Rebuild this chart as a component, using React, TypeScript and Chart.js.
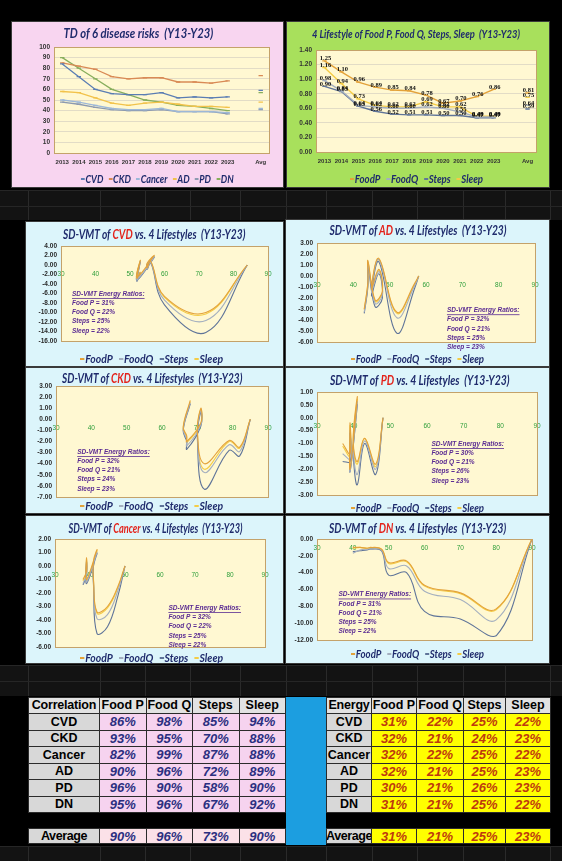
import React, { useEffect, useLayoutEffect, useRef } from 'react';
import { Chart, registerables } from 'chart.js';

// ---------------- DATA ----------------
const YEAR_LABELS = ['2013', '2014', '2015', '2016', '2017', '2018', '2019', '2020', '2021', '2022', '2023', '', 'Avg'];
const DISEASES = ['CVD', 'CKD', 'Cancer', 'AD', 'PD', 'DN'];
const CVD_TD = [84, 72, 60, 56, 55, 55, 57, 52, 53, 52, 53];
const CKD_TD = [85, 82, 79, 72, 70, 71, 71, 67, 67, 66, 68];
const CANCER_TD = [50, 48, 45, 42, 41, 41, 42, 39, 39, 39, 38];
const AD_TD = [58, 57, 52, 47, 45, 47, 48, 46, 44, 44, 43];
const PD_TD = [48, 46, 43, 41, 40, 40, 41, 39, 39, 39, 37];
const DN_TD = [90, 80, 70, 60, 55, 50, 48, 45, 44, 42, 40];
const TD_AVG = [59, 73, 42, 48, 41, 57];

const LIFESTYLES = ['FoodP', 'FoodQ', 'Steps', 'Sleep'];
const LS_FOODP = [1.25, 1.10, 0.96, 0.89, 0.85, 0.84, 0.78, 0.67, 0.70, 0.76, 0.86];
const LS_FOODQ = [0.98, 0.84, 0.64, 0.62, 0.60, 0.60, 0.62, 0.60, 0.55, 0.48, 0.48];
const LS_STEPS = [0.90, 0.83, 0.63, 0.56, 0.52, 0.51, 0.51, 0.50, 0.50, 0.47, 0.47];
const LS_SLEEP = [1.16, 0.94, 0.73, 0.64, 0.62, 0.62, 0.69, 0.62, 0.62, 0.49, 0.49];
const LS_AVG = [0.81, 0.64, 0.59, 0.75];

// SD-VMT y values (FoodP, FoodQ, Steps, Sleep) at each year, x = disease TD
const CVD_FOODP = [0, -10.0, -6.6, 0.8, -0.6, 0.4, 2.0, -2.6, 1.0, -2.8, -1.4];
const CVD_FOODQ = [0, -11.7, -7.4, 0.6, -0.8, 0.2, 1.7, -3.0, 0.8, -3.2, -1.6];
const CVD_STEPS = [0, -14.2, -8.4, 0.5, -0.9, 0.1, 1.6, -3.2, 0.7, -3.4, -1.7];
const CVD_SLEEP = [0, -10.3, -6.8, 0.7, -0.7, 0.3, 1.8, -2.8, 0.9, -3.0, -1.5];

const AD_FOODP = [0, -0.6, -3.3, 1.6, -1.2, 0.6, -1.4, -2.2, 1.4, -0.6, -3.0];
const AD_FOODQ = [0, -0.8, -3.8, 1.5, -1.5, 0.4, -1.7, -2.5, 1.2, -0.8, -3.3];
const AD_STEPS = [0, -1.0, -5.2, 1.3, -1.8, 0.2, -2.0, -2.8, 1.0, -1.0, -3.4];
const AD_SLEEP = [0, -0.7, -3.4, 1.5, -1.3, 0.5, -1.5, -2.3, 1.3, -0.7, -3.1];

const CKD_FOODP = [0, -2.5, -1.9, -4.0, -1.0, 1.0, -0.3, -2.0, -1.5, -0.7, 1.7];
const CKD_FOODQ = [0, -2.9, -2.3, -4.8, -1.3, 0.8, -0.5, -2.4, -1.8, -0.9, 1.5];
const CKD_STEPS = [0, -3.3, -2.8, -6.3, -1.6, 0.7, -0.6, -2.7, -2.0, -1.0, 1.4];
const CKD_SLEEP = [0, -2.6, -2.0, -4.5, -1.1, 0.9, -0.4, -2.1, -1.6, -0.8, 1.6];

const PD_FOODP = [0, -1.8, -0.8, -1.7, -1.2, -0.4, 0.8, -2.0, -0.2, -1.4, -1.0];
const PD_FOODQ = [0, -2.0, -0.9, -2.2, -1.5, -0.6, 0.6, -2.1, -0.5, -1.6, -1.4];
const PD_STEPS = [0, -2.2, -1.0, -2.6, -1.7, -0.7, 0.5, -2.1, -0.6, -1.7, -1.7];
const PD_SLEEP = [0, -1.9, -0.8, -1.8, -1.3, -0.5, 0.7, -2.0, -0.3, -1.5, -1.1];

const CANCER_FOODP = [0, -1.5, -3.0, -3.4, -1.0, 0.4, 1.2, -1.0, 0.6, -0.4, -1.0];
const CANCER_FOODQ = [0, -1.8, -3.6, -3.9, -1.2, 0.2, 1.0, -1.2, 0.4, -0.6, -1.3];
const CANCER_STEPS = [0, -2.2, -4.5, -5.0, -1.4, 0.0, 0.9, -1.3, 0.3, -0.7, -1.4];
const CANCER_SLEEP = [0, -1.6, -3.1, -3.5, -1.1, 0.3, 1.1, -1.1, 0.5, -0.5, -1.1];

const DN_FOODP = [0, -8.3, -6.4, -5.5, -2.6, -2.8, -1.2, -1.0, -1.1, -1.0, -1.0];
const DN_FOODQ = [0, -9.6, -7.2, -6.2, -3.2, -3.5, -1.3, -1.2, -1.2, -1.3, -1.7];
const DN_STEPS = [0, -11.5, -9.5, -8.6, -4.0, -4.3, -1.4, -1.2, -1.3, -1.4, -1.5];
const DN_SLEEP = [0, -8.4, -6.5, -5.6, -2.7, -2.9, -1.2, -1.1, -1.1, -1.0, -1.1];

// tables (CVD, CKD, Cancer, AD, PD, DN)
const CORR_FOODP = [86, 93, 82, 90, 96, 95];
const CORR_FOODQ = [98, 95, 99, 96, 90, 96];
const CORR_STEPS = [85, 70, 87, 72, 58, 67];
const CORR_SLEEP = [94, 88, 88, 89, 90, 92];
const CORR_AVG = [90, 96, 73, 90];
const ENERGY_FOODP = [31, 32, 32, 32, 30, 31];
const ENERGY_FOODQ = [22, 21, 22, 21, 21, 21];
const ENERGY_STEPS = [25, 24, 25, 25, 26, 25];
const ENERGY_SLEEP = [22, 23, 22, 23, 23, 22];
const ENERGY_AVG = [31, 21, 25, 23];
const CORR_HEADERS = ['Correlation', 'Food P', 'Food Q', 'Steps', 'Sleep'];
const ENERGY_HEADERS = ['Energy', 'Food P', 'Food Q', 'Steps', 'Sleep'];

// ---------------- STYLE ----------------
const TD_COLORS = ['#5A7DB3', '#D98A55', '#9DB8D8', '#F2C24A', '#8C9AB0', '#87AE5C'];
const LS_COLORS = ['#E3A23A', '#A4AFBF', '#5F7499', '#F4CC46'];
const NAVY = '#1F2B6C';
const UI_FONT = '"Liberation Sans", Arial, sans-serif';
const TITLE_FONT = 'Lato, "Open Sans", sans-serif';
const PLOT_FILL = '#FFF8D2';
const PLOT_BORDER = '#C4A26A';

const plotBg = {
  id: 'plotBg',
  beforeDraw(chart: any) {
    const a = chart.chartArea;
    const ctx = chart.ctx;
    ctx.save();
    ctx.fillStyle = PLOT_FILL;
    ctx.fillRect(a.left, a.top, a.right - a.left, a.bottom - a.top);
    ctx.restore();
  },
  beforeDatasetsDraw(chart: any) {
    const a = chart.chartArea;
    const ctx = chart.ctx;
    ctx.save();
    ctx.strokeStyle = PLOT_BORDER;
    ctx.lineWidth = 1;
    ctx.strokeRect(Math.round(a.left) + 0.5, Math.round(a.top) + 0.5, Math.round(a.right - a.left), Math.round(a.bottom - a.top));
    ctx.restore();
  },
};

const energyText = {
  id: 'energyText',
  afterDatasetsDraw(chart: any, _args: any, opts: any) {
    if (!opts || !opts.lines) return;
    const a = chart.chartArea;
    const ctx = chart.ctx;
    const x = a.left + opts.fx * (a.right - a.left);
    const y0 = a.top + opts.fy * (a.bottom - a.top);
    ctx.save();
    ctx.font = 'italic bold 6.5px ' + UI_FONT;
    ctx.fillStyle = '#5B2C93';
    ctx.textBaseline = 'middle';
    opts.lines.forEach((t: string, i: number) => {
      const y = y0 + i * 9.2;
      ctx.fillText(t, x, y);
      if (i === 0) {
        const w = ctx.measureText(t).width;
        ctx.fillRect(x, y + 4, w, 0.8);
      }
    });
    ctx.restore();
  },
};

const valueLabels = {
  id: 'valueLabels',
  afterDatasetsDraw(chart: any, _args: any, opts: any) {
    if (!opts || !opts.show) return;
    const ctx = chart.ctx;
    ctx.save();
    ctx.font = 'bold 6.5px "Liberation Serif", serif';
    ctx.fillStyle = '#111';
    ctx.textAlign = 'center';
    ctx.textBaseline = 'bottom';
    chart.data.datasets.forEach((ds: any, di: number) => {
      const meta = chart.getDatasetMeta(di);
      meta.data.forEach((pt: any, i: number) => {
        const v = ds.data[i];
        if (v === null || v === undefined) return;
        ctx.fillText(Number(v).toFixed(2), pt.x + 1, pt.y + 1);
      });
    });
    ctx.restore();
  },
};

Chart.register(...registerables, plotBg, energyText, valueLabels);

// ---------------- COMPONENTS ----------------
function ChartCanvas({ w, h, make }: any) {
  const ref = useRef<HTMLCanvasElement>(null);
  useEffect(() => {
    const chart = new Chart(ref.current as HTMLCanvasElement, make());
    return () => chart.destroy();
  }, []);
  return <canvas ref={ref} width={w} height={h} style={{ position: 'absolute', left: 0, top: 0, width: w, height: h }} />;
}

function FitText({ cx, cy, width, size, children, color = NAVY }: any) {
  const ref = useRef<HTMLSpanElement>(null);
  useLayoutEffect(() => {
    const el = ref.current;
    if (!el) return;
    el.style.transform = 'none';
    const w = el.offsetWidth;
    if (w > 0) el.style.transform = `scaleX(${width / w})`;
  }, []);
  return (
    <div style={{ position: 'absolute', left: cx - 300, width: 600, top: cy - size * 0.62, textAlign: 'center', lineHeight: `${size * 1.24}px`, pointerEvents: 'none' }}>
      <span ref={ref} style={{ display: 'inline-block', whiteSpace: 'nowrap', transformOrigin: 'center', fontFamily: TITLE_FONT, fontStyle: 'italic', fontWeight: 700, fontSize: size, color }}>
        {children}
      </span>
    </div>
  );
}

function Legend({ cx, cy, width, names, colors, size = 12 }: any) {
  return (
    <FitText cx={cx} cy={cy} width={width} size={size}>
      {names.map((n: string, i: number) => (
        <span key={n} style={{ marginLeft: i === 0 ? 0 : 7 }}>
          <span style={{ display: 'inline-block', width: 5, height: 2, background: colors[i], verticalAlign: 'middle', marginRight: 1 }} />
          {n}
        </span>
      ))}
    </FitText>
  );
}

function Panel({ x, y, w, h, bg, children }: any) {
  return (
    <div style={{ position: 'absolute', left: x, top: y, width: w, height: h, background: bg, outline: '1px solid #3a3a3a' }}>
      {children}
    </div>
  );
}

function tdConfig() {
  const sets = [CVD_TD, CKD_TD, CANCER_TD, AD_TD, PD_TD, DN_TD];
  return {
    type: 'line',
    data: {
      labels: YEAR_LABELS,
      datasets: DISEASES.map((d, i) => ({
        label: d,
        data: [...sets[i], null, TD_AVG[i]],
        borderColor: TD_COLORS[i],
        backgroundColor: TD_COLORS[i],
        borderWidth: 1.3,
        pointStyle: 'line',
        pointRadius: 2.2,
        pointBorderWidth: 1.3,
        spanGaps: false,
        tension: 0,
      })),
    },
    options: {
      responsive: false,
      animation: false,
      events: [],
      layout: { padding: { left: 12, top: 25, right: 14, bottom: 16 } },
      plugins: { legend: { display: false }, tooltip: { enabled: false } },
      scales: {
        x: {
          offset: true,
          grid: { display: false, drawTicks: false },
          border: { display: false },
          ticks: { font: { size: 6, weight: 'bold', family: UI_FONT }, color: '#333', padding: 6, autoSkip: false, maxRotation: 0 },
          afterFit: (s: any) => { s.height = 18; },
        },
        y: {
          min: 0, max: 100,
          ticks: { stepSize: 10, autoSkip: false, font: { size: 6.5, weight: 'bold', family: UI_FONT }, color: '#333', padding: 4 },
          grid: { color: '#E2DCC6', drawTicks: false },
          border: { display: false },
          afterFit: (s: any) => { s.width = 30; },
        },
      },
    },
  };
}

function lsConfig() {
  const sets = [LS_FOODP, LS_FOODQ, LS_STEPS, LS_SLEEP];
  return {
    type: 'line',
    data: {
      labels: YEAR_LABELS,
      datasets: LIFESTYLES.map((n, i) => ({
        label: n,
        data: [...sets[i], null, LS_AVG[i]],
        borderColor: LS_COLORS[i],
        backgroundColor: LS_COLORS[i],
        borderWidth: 1.4,
        pointStyle: 'line',
        pointRadius: 2.2,
        pointBorderWidth: 1.3,
        spanGaps: false,
        tension: 0,
      })),
    },
    options: {
      responsive: false,
      animation: false,
      events: [],
      layout: { padding: { left: 7, top: 28, right: 13, bottom: 17 } },
      plugins: { legend: { display: false }, tooltip: { enabled: false }, valueLabels: { show: true } },
      scales: {
        x: {
          offset: true,
          grid: { display: false, drawTicks: false },
          border: { display: false },
          ticks: { font: { size: 6, weight: 'bold', family: UI_FONT }, color: '#333', padding: 6, autoSkip: false, maxRotation: 0 },
          afterFit: (s: any) => { s.height = 18; },
        },
        y: {
          min: 0, max: 1.4,
          ticks: { stepSize: 0.2, autoSkip: false, font: { size: 6.5, weight: 'bold', family: UI_FONT }, color: '#333', padding: 4, callback: (v: any) => Number(v).toFixed(2) },
          grid: { color: '#E2DCC6', drawTicks: false },
          border: { display: false },
          afterFit: (s: any) => { s.width = 22; },
        },
      },
    },
  };
}

function sdConfig(xs: number[], ys: number[][], yMin: number, yMax: number, step: number, pad: any, energy: number[], fx: number, fy: number) {
  return () => ({
    type: 'scatter',
    data: {
      datasets: LIFESTYLES.map((n, k) => ({
        label: n,
        data: xs.map((x, i) => ({ x, y: ys[k][i] })),
        showLine: true,
        borderColor: LS_COLORS[k],
        backgroundColor: LS_COLORS[k],
        borderWidth: 1.1,
        pointRadius: 0,
        tension: 0.4,
      })),
    },
    options: {
      responsive: false,
      animation: false,
      events: [],
      layout: { padding: pad },
      plugins: {
        legend: { display: false },
        tooltip: { enabled: false },
        energyText: {
          fx, fy,
          lines: ['SD-VMT Energy Ratios:', `Food P = ${energy[0]}%`, `Food Q = ${energy[1]}%`, `Steps = ${energy[2]}%`, `Sleep = ${energy[3]}%`],
        },
      },
      scales: {
        x: {
          type: 'linear',
          position: { y: 0 },
          min: 30, max: 90,
          grid: { display: false, drawTicks: false },
          border: { display: false },
          ticks: { stepSize: 10, autoSkip: false, font: { size: 6.5, family: UI_FONT }, color: '#2E9E3A', padding: 5 },
        },
        y: {
          min: yMin, max: yMax,
          ticks: { stepSize: step, autoSkip: false, font: { size: 6.5, weight: 'bold', family: UI_FONT }, color: '#2a2a2a', padding: 4, callback: (v: any) => Number(v).toFixed(2) },
          grid: { display: false, drawTicks: false },
          border: { display: false },
          afterFit: (s: any) => { s.width = 26; },
        },
      },
    },
  });
}

function SdPanel({ x, y, w, h, disease, title, legend, make }: any) {
  return (
    <Panel x={x} y={y} w={w} h={h} bg="#DCF5FB">
      <ChartCanvas w={w} h={h} make={make} />
      <FitText cx={title[0]} cy={title[1]} width={title[2]} size={13}>
        SD-VMT of <span style={{ color: '#E3231B' }}>{disease}</span> vs. 4 Lifestyles&nbsp;&nbsp;(Y13-Y23)
      </FitText>
      <Legend cx={legend[0]} cy={legend[1]} width={legend[2]} names={LIFESTYLES} colors={LS_COLORS} />
    </Panel>
  );
}

function Table({ left, top, colW, headers, labels, cols, avg, valColor, valBg, avgBg }: any) {
  const xs = [0];
  colW.forEach((w: number) => xs.push(xs[xs.length - 1] + w));
  const cells: any[] = [];
  const border = '1px solid #2b2b2b';
  const mk = (key: string, cx: number, cy: number, cw: number, ch: number, text: string, st: any) => (
    <div key={key} style={{
      position: 'absolute', left: cx, top: cy, width: cw + 1, height: ch + 1, boxSizing: 'border-box', border,
      display: 'flex', alignItems: 'center', justifyContent: 'center', overflow: 'hidden', whiteSpace: 'nowrap',
      fontFamily: UI_FONT, fontSize: 12.5, fontWeight: 700, lineHeight: 1, ...st,
    }}>{text}</div>
  );
  headers.forEach((hd: string, c: number) => cells.push(mk('h' + c, xs[c], 0, colW[c], 16, hd, { background: '#E2E2E2', color: '#000', letterSpacing: c === 0 ? -0.2 : 0 })));
  const rowH = 16.5;
  labels.forEach((lab: string, r: number) => {
    const y = 16 + r * rowH;
    cells.push(mk('l' + r, xs[0], y, colW[0], rowH, lab, { background: '#D8D8D8', color: '#000' }));
    cols.forEach((col: number[], c: number) => cells.push(mk(`v${r}_${c}`, xs[c + 1], y, colW[c + 1], rowH, col[r] + '%', { background: valBg, color: valColor, fontStyle: 'italic', fontSize: 13 })));
  });
  const ay = 16 + 6 * rowH + 16;
  cells.push(mk('al', xs[0], ay, colW[0], 15, 'Average', { background: '#D8D8D8', color: '#000', letterSpacing: -0.4 }));
  avg.forEach((v: number, c: number) => cells.push(mk('a' + c, xs[c + 1], ay, colW[c + 1], 15, v + '%', { background: avgBg, color: valColor, fontStyle: 'italic', fontSize: 13 })));
  return <div style={{ position: 'absolute', left, top }}>{cells}</div>;
}

function Band({ y, h }: any) {
  const lines: any[] = [];
  const vx = [28, 100, 145, 190, 240, 286, 326, 372, 417, 463, 505, 550];
  vx.forEach((x, i) => lines.push(<div key={'v' + i} style={{ position: 'absolute', left: x, top: 0, width: 1, height: h, background: '#2a2a2a' }} />));
  for (let yy = 0; yy < h; yy += 16) lines.push(<div key={'h' + yy} style={{ position: 'absolute', left: 0, top: yy, width: 562, height: 1, background: '#262626' }} />);
  return <div style={{ position: 'absolute', left: 0, top: y, width: 562, height: h, background: '#131313', overflow: 'hidden' }}>{lines}</div>;
}

export default function App() {
  const pad = (l: number, t: number, r: number, b: number) => ({ left: l, top: t, right: r, bottom: b });
  return (
    <div style={{ position: 'absolute', left: 0, top: 0, width: 562, height: 861, background: '#000', overflow: 'hidden', fontFamily: UI_FONT }}>
      <Band y={190} h={30} />
      <Band y={665} h={31} />
      <Band y={846} h={15} />

      <Panel x={12} y={22} w={271} h={165} bg="#F8D5F0">
        <ChartCanvas w={271} h={165} make={tdConfig} />
        <FitText cx={126} cy={11} width={150} size={13}>TD of 6 disease risks&nbsp;&nbsp;(Y13-Y23)</FitText>
        <Legend cx={145} cy={156} width={153} names={DISEASES} colors={TD_COLORS} />
      </Panel>

      <Panel x={287} y={22} w={262} h={165} bg="#A8E05C">
        <ChartCanvas w={262} h={165} make={lsConfig} />
        <FitText cx={129} cy={11} width={208} size={11.5}>4 Lifestyle of Food P, Food Q, Steps, Sleep&nbsp;&nbsp;(Y13-Y23)</FitText>
        <Legend cx={130} cy={156} width={133} names={LIFESTYLES} colors={LS_COLORS} />
      </Panel>

      <SdPanel x={26} y={222} w={257} h={144} disease="CVD" title={[128, 12, 182]} legend={[126, 136, 143]}
        make={sdConfig(CVD_TD, [CVD_FOODP, CVD_FOODQ, CVD_STEPS, CVD_SLEEP], -16, 4, 2, pad(9, 24, 15, 25), [ENERGY_FOODP[0], ENERGY_FOODQ[0], ENERGY_STEPS[0], ENERGY_SLEEP[0]], 0.053, 0.505)} />
      <SdPanel x={286} y={220} w={263} h={146} disease="AD" title={[132, 10, 177]} legend={[132, 138, 133]}
        make={sdConfig(AD_TD, [AD_FOODP, AD_FOODQ, AD_STEPS, AD_SLEEP], -6, 3, 1, pad(5, 23, 14, 24), [ENERGY_FOODP[3], ENERGY_FOODQ[3], ENERGY_STEPS[3], ENERGY_SLEEP[3]], 0.596, 0.68)} />
      <SdPanel x={26} y={368} w={257} h={145} disease="CKD" title={[126, 10, 180]} legend={[126, 137, 143]}
        make={sdConfig(CKD_TD, [CKD_FOODP, CKD_FOODQ, CKD_STEPS, CKD_SLEEP], -7, 3, 1, pad(4, 18, 15, 16), [ENERGY_FOODP[1], ENERGY_FOODQ[1], ENERGY_STEPS[1], ENERGY_SLEEP[1]], 0.1, 0.595)} />
      <SdPanel x={286} y={368} w={263} h={145} disease="PD" title={[134, 12, 180]} legend={[132, 139, 133]}
        make={sdConfig(PD_TD, [PD_FOODP, PD_FOODQ, PD_STEPS, PD_SLEEP], -3, 1, 0.5, pad(5, 24, 12, 18), [ENERGY_FOODP[4], ENERGY_FOODQ[4], ENERGY_STEPS[4], ENERGY_SLEEP[4]], 0.52, 0.505)} />
      <SdPanel x={26} y={516} w={257} h={147} disease="Cancer" title={[129, 12, 174]} legend={[126, 141, 143]}
        make={sdConfig(CANCER_TD, [CANCER_FOODP, CANCER_FOODQ, CANCER_STEPS, CANCER_SLEEP], -6, 2, 1, pad(3, 23, 18, 16), [ENERGY_FOODP[2], ENERGY_FOODQ[2], ENERGY_STEPS[2], ENERGY_SLEEP[2]], 0.54, 0.64)} />
      <SdPanel x={286} y={516} w={263} h={147} disease="DN" title={[132, 12, 177]} legend={[132, 137, 133]}
        make={sdConfig(DN_TD, [DN_FOODP, DN_FOODQ, DN_STEPS, DN_SLEEP], -12, 0, 2, pad(5, 23, 17, 23), [ENERGY_FOODP[5], ENERGY_FOODQ[5], ENERGY_STEPS[5], ENERGY_SLEEP[5]], 0.1, 0.55)} />

      <Table left={28} top={697} colW={[71, 46.5, 46.5, 46.5, 46.5]} headers={CORR_HEADERS} labels={DISEASES}
        cols={[CORR_FOODP, CORR_FOODQ, CORR_STEPS, CORR_SLEEP]} avg={CORR_AVG} valColor="#2B2F80" valBg="#F6D3EF" avgBg="#FBE1E8" />
      <div style={{ position: 'absolute', left: 286, top: 697, width: 40, height: 148, background: '#1C9EE0' }} />
      <Table left={326} top={697} colW={[45, 45, 47, 42, 45]} headers={ENERGY_HEADERS} labels={DISEASES}
        cols={[ENERGY_FOODP, ENERGY_FOODQ, ENERGY_STEPS, ENERGY_SLEEP]} avg={ENERGY_AVG} valColor="#BE3A0E" valBg="#FFFF00" avgBg="#FFFF00" />
    </div>
  );
}
